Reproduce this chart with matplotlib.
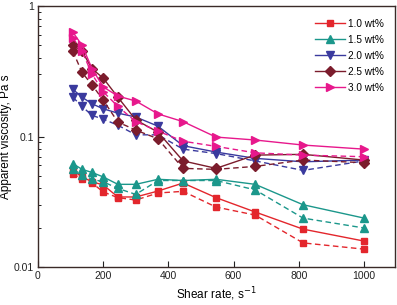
import matplotlib
matplotlib.use("Agg")
import matplotlib.pyplot as plt
from matplotlib.ticker import FixedLocator, NullFormatter

plt.rcParams['font.family'] = ['Liberation Sans', 'DejaVu Sans']

shear = [107, 135, 166, 200, 245, 300, 368, 445, 546, 666, 813, 1000]

# (solid, dashed) series per concentration
red_a = [0.055, 0.049, 0.045, 0.0425, 0.0344, 0.0344, 0.0382, 0.044, 0.034, 0.0264, 0.0195, 0.0158]
red_b = [0.052, 0.047, 0.044, 0.0376, 0.034, 0.0326, 0.0369, 0.038, 0.0288, 0.025, 0.0153, 0.0137]
teal_a = [0.062, 0.056, 0.053, 0.049, 0.043, 0.043, 0.047, 0.046, 0.047, 0.043, 0.030, 0.0237]
teal_b = [0.056, 0.051, 0.047, 0.045, 0.040, 0.036, 0.046, 0.046, 0.046, 0.039, 0.0237, 0.0199]
blue_a = [0.23, 0.20, 0.178, 0.163, 0.151, 0.141, 0.120, 0.085, 0.076, 0.068, 0.064, 0.066]
blue_b = [0.20, 0.17, 0.145, 0.136, 0.122, 0.103, 0.103, 0.080, 0.074, 0.065, 0.055, 0.065]
brown_a = [0.50, 0.45, 0.33, 0.28, 0.20, 0.134, 0.108, 0.065, 0.057, 0.072, 0.073, 0.066]
brown_b = [0.45, 0.31, 0.248, 0.19, 0.129, 0.112, 0.096, 0.057, 0.056, 0.059, 0.066, 0.063]
pink_a = [0.63, 0.50, 0.33, 0.24, 0.204, 0.187, 0.149, 0.13, 0.099, 0.094, 0.086, 0.080]
pink_b = [0.57, 0.45, 0.30, 0.22, 0.17, 0.13, 0.11, 0.092, 0.084, 0.075, 0.072, 0.070]

labels = ['1.0 wt%', '1.5 wt%', '2.0 wt%', '2.5 wt%', '3.0 wt%']
colors = ['#e3262c', '#1b978b', '#3a3a9e', '#7b1c2c', '#e7188c']
markers = ['s', '^', 'v', 'D', '>']
sizes = [5, 6, 6, 5, 6]
solid = [red_a, teal_a, blue_a, brown_a, pink_a]
dashed = [red_b, teal_b, blue_b, brown_b, pink_b]

fig = plt.figure(figsize=(3.97, 3.05), dpi=100)
ax = fig.add_axes([0.0957, 0.1246, 0.8993, 0.8557])

for lab, c, m, ms, ya, yb in zip(labels, colors, markers, sizes, solid, dashed):
    ax.plot(shear, yb, color=c, marker=m, ms=ms, lw=1.0, ls=(0, (4, 2.5)))
    ax.plot(shear, ya, color=c, marker=m, ms=ms, lw=1.0, label=lab)

ax.set_yscale('log')
ax.set_xlim(0, 1095)
ax.set_ylim(0.01, 1)
ax.set_xticks([0, 200, 400, 600, 800, 1000])
ax.set_yticks([0.01, 0.1, 1])
ax.set_yticklabels(['0.01', '0.1', '1'])
ax.yaxis.set_minor_locator(FixedLocator([k * 10.0**e for e in (-2, -1) for k in range(2, 10)]))
ax.yaxis.set_minor_formatter(NullFormatter())
ax.tick_params(which='both', direction='in', top=False, right=False, labelsize=7.5, colors='#222222', pad=3)
ax.tick_params(which='major', length=4, width=0.8)
ax.tick_params(which='minor', length=2.5, width=0.7)
for s in ax.spines.values():
    s.set_color('#3a2a28')
    s.set_linewidth(1.0)

ax.set_xlabel('Shear rate, s$^{-1}$', fontsize=8.5, labelpad=3)
ax.set_ylabel('Apparent viscosity, Pa s', fontsize=8.5)
ax.yaxis.set_label_coords(-0.072, 0.5)

ax.legend(loc='upper right', bbox_to_anchor=(0.985, 0.975), frameon=False, fontsize=7.2,
          handlelength=3.0, handletextpad=0.3, labelspacing=0.6, borderaxespad=0.2)

fig.savefig('out.png', dpi=100)
